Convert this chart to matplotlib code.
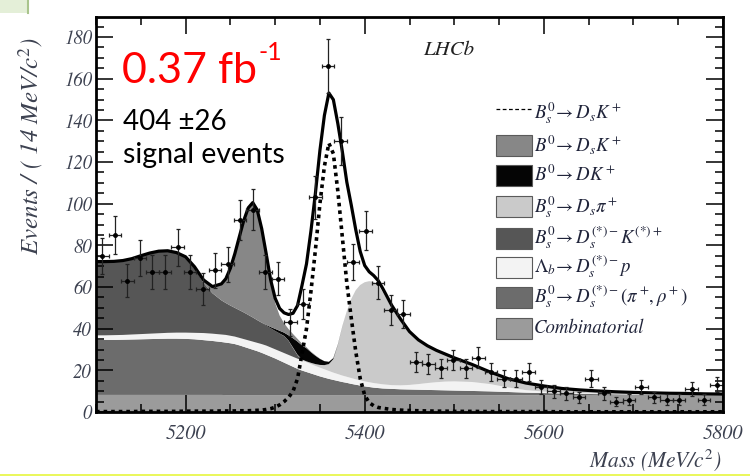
import numpy as np
import matplotlib.pyplot as plt
from matplotlib.patches import Rectangle
from matplotlib.lines import Line2D
from matplotlib.ticker import MultipleLocator

plt.rcParams['mathtext.fontset'] = 'stix'
plt.rcParams['font.family'] = ['STIXGeneral', 'DejaVu Serif']

# 拟合各分量的取样点 (MeV/c^2)
mass = [5100, 5110, 5120, 5130, 5140, 5150, 5160, 5170, 5180, 5190,
        5200, 5210, 5220, 5230, 5240,
        5245, 5250, 5255, 5260, 5265, 5270, 5275, 5280, 5285, 5290,
        5295, 5300, 5305, 5310, 5315, 5320, 5325, 5330, 5335, 5340,
        5345, 5350, 5355, 5360, 5365, 5370, 5375, 5380, 5385, 5390,
        5395, 5400, 5405, 5410, 5415, 5420,
        5430, 5440, 5450, 5460, 5470, 5480, 5490, 5500,
        5520, 5540, 5560, 5580, 5600, 5620, 5640, 5660, 5680, 5700,
        5720, 5740, 5760, 5780, 5800]

# 各本底分量 (堆叠顺序: 从下到上)
comb = [8.2, 8.2, 8.2, 8.2, 8.2, 8.2, 8.2, 8.2, 8.2, 8.2,
        8.2, 8.2, 8.2, 8.2, 8.2,
        8.1, 8.1, 8.1, 8.1, 8.1, 8.1, 8.1, 8.1, 8.1, 8.1,
        8.1, 8.1, 8.1, 8.1, 8.1, 8.1, 8.1, 8.1, 8.1, 8.1,
        8.1, 8.1, 8.1, 8.1, 8.1, 8.1, 8.1, 8.1, 8.1, 8.1,
        8.1, 8.1, 8.1, 8.1, 8.1, 8.1,
        8.0, 8.0, 8.0, 8.0, 8.0, 8.0, 8.0, 8.0,
        8.0, 8.0, 8.0, 8.0, 8.0, 7.9, 7.9, 7.9, 7.9, 7.9,
        7.9, 7.9, 7.9, 7.9, 7.9]
pirho = [26.4, 26.4, 26.4, 26.5, 26.6, 26.7, 26.8, 26.9, 27.0, 27.0,
         26.9, 26.7, 26.3, 25.9, 25.4,
         25.2, 24.9, 24.5, 23.9, 23.2, 22.5, 21.8, 21.1, 20.3, 19.4,
         18.5, 17.6, 16.6, 15.6, 14.6, 13.6, 12.6, 11.8, 11.1, 10.4,
         9.7, 9.0, 8.4, 7.8, 7.3, 6.8, 6.3, 5.9, 5.4, 5.0,
         4.6, 4.2, 3.9, 3.6, 3.4, 3.2,
         3.1, 2.9, 2.8, 2.7, 2.6, 2.5, 2.4, 2.3,
         2.1, 1.9, 1.6, 1.3, 1.1, 1.0, 0.8, 0.7, 0.6, 0.5,
         0.4, 0.3, 0.3, 0.2, 0.2]
lambdab = [2.2, 2.2, 2.3, 2.3, 2.4, 2.5, 2.6, 2.7, 2.8, 2.9,
           3.0, 3.1, 3.4, 3.5, 3.6,
           3.7, 3.6, 3.6, 3.6, 3.7, 3.8, 3.9, 4.0, 4.2, 4.4,
           4.4, 4.4, 4.5, 4.6, 4.7, 4.8, 4.9, 4.9, 4.7, 4.5,
           4.3, 4.2, 4.0, 3.8, 3.5, 3.3, 3.1, 2.9, 2.8, 2.6,
           2.5, 2.4, 2.3, 2.2, 2.1, 2.0,
           1.8, 1.9, 2.2, 2.7, 3.3, 3.8, 4.2, 4.4,
           4.3, 3.5, 2.2, 1.2, 0.7, 0.5, 0.4, 0.3, 0.3, 0.3,
           0.3, 0.3, 0.2, 0.2, 0.2]
dsstk = [35.2, 35.2, 35.2, 35.5, 36.2, 37.3, 38.4, 39.1, 39.1, 38.1,
         35.9, 31.0, 24.1, 19.4, 16.4,
         15.3, 14.5, 13.8, 13.3, 12.8, 12.2, 11.6, 10.9, 10.2, 9.6,
         9.2, 8.8, 8.5, 8.1, 6.8, 4.2, 1.7, 0.1, 0.0, 0.0,
         0.0, 0.0, 0.0, 0.0, 0.0, 0.0, 0.0, 0.0, 0.0, 0.0,
         0.0, 0.0, 0.0, 0.0, 0.0, 0.0,
         0.0, 0.0, 0.0, 0.0, 0.0, 0.0, 0.0, 0.0,
         0.0, 0.0, 0.0, 0.0, 0.0, 0.0, 0.0, 0.0, 0.0, 0.0,
         0.0, 0.0, 0.0, 0.0, 0.0]
dspi = [0.0, 0.0, 0.0, 0.0, 0.0, 0.0, 0.0, 0.0, 0.0, 0.0,
        0.0, 0.0, 0.0, 0.0, 0.0,
        0.0, 0.0, 0.0, 0.0, 0.0, 0.0, 0.0, 0.0, 0.0, 0.0,
        0.0, 0.0, 0.0, 0.1, 0.1, 0.2, 0.2, 0.3, 0.4, 0.6,
        0.9, 1.3, 2.0, 3.3, 6.5, 14.0, 23.5, 31.5, 38.0, 42.8,
        45.8, 47.6, 48.5, 48.6, 47.3, 44.3,
        37.2, 30.9, 24.9, 20.6, 17.4, 14.9, 12.8, 11.0,
        8.1, 5.6, 4.0, 3.2, 2.5, 1.8, 1.4, 1.1, 0.8, 0.6,
        0.5, 0.4, 0.4, 0.3, 0.2]
dk = [0.0, 0.0, 0.0, 0.0, 0.0, 0.0, 0.0, 0.0, 0.0, 0.0,
      0.0, 0.0, 0.0, 0.0, 0.0,
      0.0, 0.0, 0.0, 0.0, 0.0, 0.0, 0.0, 0.0, 0.1, 0.3,
      0.6, 1.0, 1.3, 1.6, 2.5, 4.5, 6.3, 6.8, 6.3, 5.1,
      4.0, 2.9, 1.9, 1.1, 0.5, 0.2, 0.1, 0.0, 0.0, 0.0,
      0.0, 0.0, 0.0, 0.0, 0.0, 0.0,
      0.0, 0.0, 0.0, 0.0, 0.0, 0.0, 0.0, 0.0,
      0.0, 0.0, 0.0, 0.0, 0.0, 0.0, 0.0, 0.0, 0.0, 0.0,
      0.0, 0.0, 0.0, 0.0, 0.0]
b0dsk = [0.0, 0.0, 0.0, 0.0, 0.0, 0.0, 0.0, 0.0, 0.0, 0.0,
         0.1, 0.3, 1.0, 2.8, 7.4,
         11.2, 17.4, 25.5, 34.6, 43.6, 50.8, 54.4, 52.1, 44.2, 33.0,
         21.0, 12.4, 7.3, 4.5, 3.0, 2.0, 1.3, 0.8, 0.5, 0.3,
         0.2, 0.1, 0.0, 0.0, 0.0, 0.0, 0.0, 0.0, 0.0, 0.0,
         0.0, 0.0, 0.0, 0.0, 0.0, 0.0,
         0.0, 0.0, 0.0, 0.0, 0.0, 0.0, 0.0, 0.0,
         0.0, 0.0, 0.0, 0.0, 0.0, 0.0, 0.0, 0.0, 0.0, 0.0,
         0.0, 0.0, 0.0, 0.0, 0.0]
# 信号 Bs -> Ds K (虚线, 不堆叠)
signal = [0.2, 0.2, 0.2, 0.2, 0.2, 0.3, 0.3, 0.3, 0.3, 0.3,
          0.4, 0.4, 0.4, 0.4, 0.5,
          0.5, 0.5, 0.5, 0.6, 0.6, 0.6, 0.7, 0.8, 0.9, 1.2,
          1.6, 2.3, 3.4, 5.0, 7.0, 10.0, 16.0, 28.0, 40.0, 58.0,
          78.0, 100.0, 118.0, 129.0, 124.0, 106.0, 84.0, 62.0, 45.0, 29.0,
          16.0, 8.0, 4.5, 3.0, 2.2, 1.8,
          1.2, 0.9, 0.7, 0.6, 0.5, 0.4, 0.4, 0.3,
          0.3, 0.2, 0.2, 0.2, 0.2, 0.1, 0.1, 0.1, 0.1, 0.1,
          0.1, 0.1, 0.1, 0.1, 0.1]

# 数据点: 14 MeV 一个 bin
bin_lo, bin_hi, bin_w = 5100, 5800, 14
counts = [75, 85, 63, 74, 67, 67, 79, 67, 59, 68,
          71, 92, 97, 67, 64, 43, 52, 103, 166, 130,
          72, 87, 62, 49, 47, 24, 23, 21, 25, 21,
          26, 19, 16, 16, 19, 12, 10, 9, 7, 16,
          9, 5, 6, 12, 7, 6, 6, 11, 6, 13]
xticks = [5200, 5400, 5600, 5800]
yticks = [0, 20, 40, 60, 80, 100, 120, 140, 160, 180]

components = [comb, pirho, lambdab, dsstk, dspi, dk, b0dsk]
comp_colors = ['#9b9b9b', '#6c6c6c', '#f3f3f3', '#565656', '#cacaca', '#050505', '#878787']

legend_labels = [r'$B^0_s\!\rightarrow D_s K^+$',
                 r'$B^0\!\rightarrow D_s K^+$',
                 r'$B^0\!\rightarrow D K^+$',
                 r'$B^0_s\!\rightarrow D_s\pi^+$',
                 r'$B^0_s\!\rightarrow D_s^{(*)-}K^{(*)+}$',
                 r'$\Lambda_b\!\rightarrow D_s^{(*)-}p$',
                 r'$B^0_s\!\rightarrow D_s^{(*)-}(\pi^+\!,\rho^+)$',
                 'Combinatorial']
legend_colors = [None, '#878787', '#050505', '#cacaca', '#565656', '#f3f3f3', '#6c6c6c', '#9b9b9b']

W, H = 750, 476
ink = '#3c4150'
tick_font = {'family': 'STIXGeneral', 'style': 'italic', 'color': ink}


def fx(px):
    return px / W


def fy(py):
    return 1 - py / H


fig = plt.figure(figsize=(W / 100, H / 100), dpi=100)
ax = fig.add_axes([fx(96), fy(412), (723 - 96) / W, (412 - 17) / H])

m = np.array(mass)
levels = np.cumsum(np.array(components), axis=0)
lower = np.zeros_like(m, dtype=float)
for top, col in zip(levels, comp_colors):
    ax.fill_between(m, lower, top, facecolor=col, edgecolor='none', lw=0)
    lower = top
total = levels[-1] + np.array(signal)

ax.plot(m, signal, color='k', lw=2.6, ls=(0, (1.0, 1.1)))
ax.plot(m, total, color='k', lw=2.3)

centers = np.arange(bin_lo + bin_w / 2, bin_hi, bin_w)
n = np.array(counts, dtype=float)
ax.errorbar(centers, n, yerr=np.sqrt(n), xerr=bin_w / 2, fmt='.', ms=5,
            color='k', ecolor='#222222', elinewidth=0.9, capsize=1.5, capthick=0.9)

ax.set_xlim(bin_lo, bin_hi)
ax.set_ylim(0, 189.6)
ax.tick_params(which='both', direction='in', top=True, right=True, color='k', width=1.1)
ax.tick_params(which='major', length=12)
ax.tick_params(which='minor', length=6)
ax.tick_params(axis='x', pad=9)
ax.tick_params(axis='y', pad=3)
ax.set_xticks(xticks)
ax.set_xticklabels([str(t) for t in xticks], fontdict=tick_font, fontsize=14.5)
ax.set_yticks(yticks)
ax.set_yticklabels([str(t) for t in yticks], fontdict=tick_font, fontsize=13.5)
ax.xaxis.set_minor_locator(MultipleLocator(50))
ax.yaxis.set_minor_locator(MultipleLocator(5))
for sp in ax.spines.values():
    sp.set_linewidth(2.0)

# 坐标轴标题
fig.text(fx(31), fy(146), r'Events / ( 14 MeV/$c^2$)', rotation=90, ha='center', va='center',
         fontsize=18, fontstyle='italic', color=ink)
fig.text(fx(722), fy(460), r'Mass (MeV/$c^2$)', ha='right', va='center',
         fontsize=15.5, fontstyle='italic', color=ink)
fig.text(fx(449), fy(50), 'LHCb', ha='center', va='center', fontsize=15,
         fontstyle='italic', color='#222222')

# 图例 (手动排布)
leg_y = [113, 145, 175, 207, 238, 267, 297, 328]
for yy, lab, col in zip(leg_y, legend_labels, legend_colors):
    if col is None:
        fig.add_artist(Line2D([fx(496), fx(531)], [fy(yy - 4), fy(yy - 4)],
                              transform=fig.transFigure, color='k', lw=0.9, ls=(0, (3, 2))))
    else:
        fig.add_artist(Rectangle((fx(496), fy(yy + 10.5)), 36 / W, 21 / H,
                                 transform=fig.transFigure, facecolor=col,
                                 edgecolor='#5a5a5a', lw=0.8))
    style = 'italic' if lab == 'Combinatorial' else 'normal'
    fig.text(fx(534), fy(yy), lab, ha='left', va='center', fontsize=13.5,
             fontstyle=style, color='#20243a')

# 幻灯片上的注释
fig.text(fx(122), fy(83), '0.37 fb', color='#ff0000', fontsize=31,
         family='Lato', ha='left', va='baseline')
fig.text(fx(258), fy(60), '-1', color='#ff0000', fontsize=18,
         family='Lato', ha='left', va='baseline')
fig.text(fx(123), fy(130), '404 \u00b126', color='k', fontsize=20,
         family='Lato', ha='left', va='baseline')
fig.text(fx(123), fy(163), 'signal events', color='k', fontsize=20.5,
         family='Lato', ha='left', va='baseline')

# 幻灯片边框残留
fig.add_artist(Rectangle((0, fy(13)), fx(27), 13 / H, transform=fig.transFigure,
                         facecolor='#e4efd8', edgecolor='none'))
fig.add_artist(Line2D([fx(27.5), fx(27.5)], [fy(0), fy(13)], transform=fig.transFigure,
                      color='#a9c48c', lw=1.5))
fig.add_artist(Rectangle((0, 0), 1, 2.5 / H, transform=fig.transFigure,
                         facecolor='#eaf75e', edgecolor='none'))

fig.savefig('out.png', dpi=100)
